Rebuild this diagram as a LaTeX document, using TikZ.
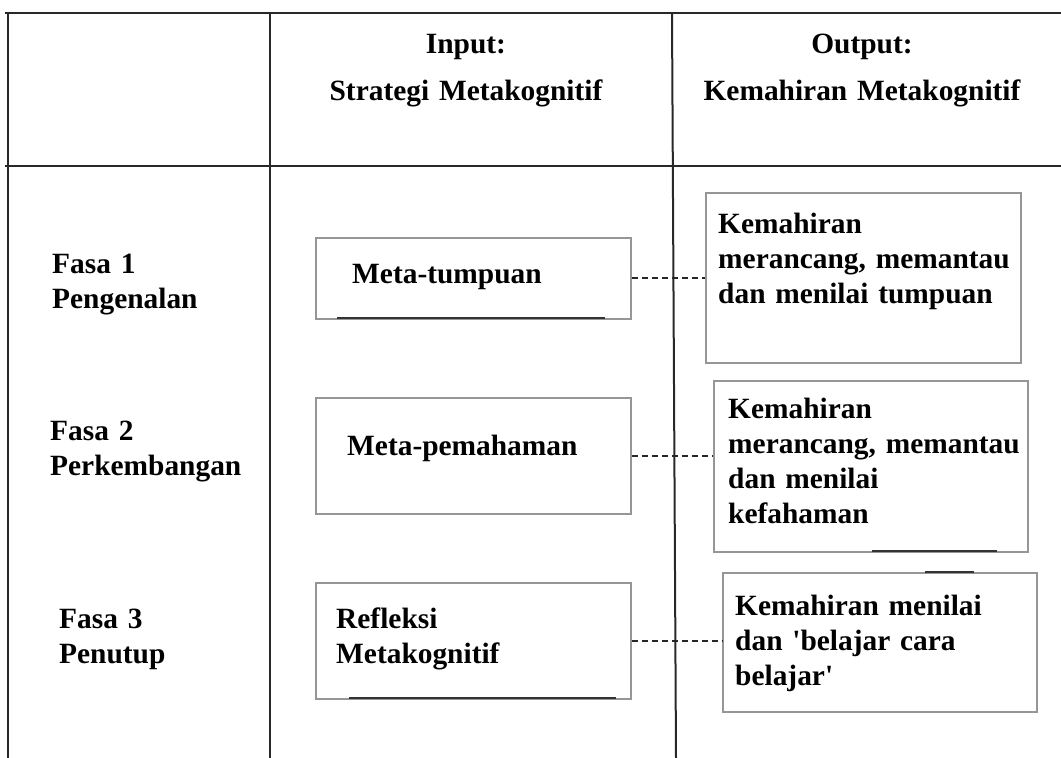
\documentclass[tikz,border=0pt]{standalone}
\usepackage{fontspec}
\setmainfont{Liberation Serif}
\usetikzlibrary{positioning}
\definecolor{gridgray}{RGB}{40,40,40}
\definecolor{boxgray}{RGB}{150,150,150}

\tikzset{
  gridline/.style={line width=2pt, gridgray},
  stratbox/.style={rectangle, draw=boxgray, line width=1.6pt, inner sep=0pt, anchor=north west},
  heavyedge/.style={line width=2.6pt, black!80},
  txt/.style={anchor=base west, inner sep=0pt, text width=320pt, align=left,
    font=\fontsize{29.4}{35}\selectfont\bfseries},
  headtxt/.style={anchor=base, inner sep=0pt, text width=380pt, align=center,
    font=\fontsize{29.4}{35}\selectfont\bfseries},
  link/.style={line width=1.8pt, black!85, dash pattern=on 6pt off 4pt}
}

\begin{document}
\begin{tikzpicture}[x=1pt, y=-1pt]
\useasboundingbox (0,0) rectangle (1061,758);

% Table lines
\draw[gridline] (5,13) -- (1061,13);
\draw[gridline] (5,166) -- (1061,166);
\draw[gridline] (8,13) -- (8,758);
\draw[gridline] (270,13) -- (270,758);
\draw[gridline] (672,13) -- (676,758);

% Header
\node[headtxt] (hin) at (466,53) {Input:\\[12pt]Strategi Metakognitif};
\node[headtxt] (hout) at (862,53) {Output:\\[12pt]Kemahiran Metakognitif};

% Phases
\node[txt] (fasa1) at (52,273) {Fasa 1\\Pengenalan};
\node[txt] (fasa2) at (50,440) {Fasa 2\\Perkembangan};
\node[txt] (fasa3) at (59,628) {Fasa 3\\Penutup};

% Input boxes
\node[stratbox, minimum width=315pt, minimum height=81pt] (mt) at (315,237) {};
\node[stratbox, minimum width=315pt, minimum height=116pt] (mp) at (315,397) {};
\node[stratbox, minimum width=315pt, minimum height=116pt] (rm) at (315,582) {};
\node[txt] (mtt) at (352,283) {Meta-tumpuan};
\node[txt] (mpt) at (347,455) {Meta-pemahaman};
\node[txt] (rmt) at (336,628) {Refleksi\\Metakognitif};

% Output boxes
\node[stratbox, minimum width=315pt, minimum height=170pt] (k1) at (705,192) {};
\node[stratbox, minimum width=314pt, minimum height=171pt] (k2) at (713,380) {};
\node[stratbox, minimum width=314pt, minimum height=139pt] (k3) at (722,572) {};
\node[txt] (k1t) at (718,233) {Kemahiran\\merancang, memantau\\dan menilai tumpuan};
\node[txt] (k2t) at (728,418) {Kemahiran\\merancang, memantau\\dan menilai\\kefahaman};
\node[txt] (k3t) at (735,615) {Kemahiran menilai\\dan \textquotesingle belajar cara\\belajar\textquotesingle};

% Darker edge pieces
\draw[heavyedge] (337,318) -- (605,318);
\draw[heavyedge] (349,698) -- (616,698);
\draw[heavyedge] (872,551) -- (997,551);
\draw[heavyedge] (925,572) -- (974,572);

% Connections
\draw[link] (mt.east) -- (mt.east -| k1.west);
\draw[link] (mp.east) -- (mp.east -| k2.west);
\draw[link] (rm.east) -- (rm.east -| k3.west);
\end{tikzpicture}
\end{document}
